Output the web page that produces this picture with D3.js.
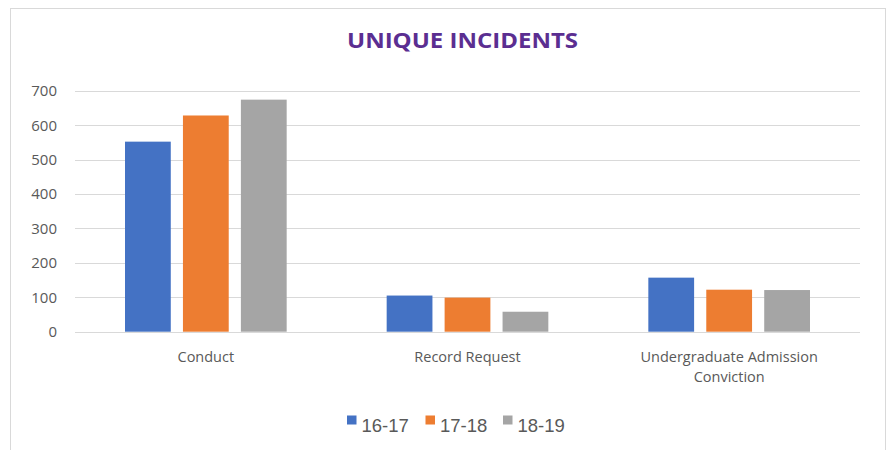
<!DOCTYPE html>
<html><head><meta charset="utf-8">
<script src="https://cdn.jsdelivr.net/npm/d3@7"></script>
<style>body{margin:0;background:#fff}svg{display:block}</style>
</head><body><svg id="c" width="892" height="450"></svg>
<script>
const categories = ["Conduct", "Record Request", "Undergraduate Admission Conviction"];
const series = ["16-17", "17-18", "18-19"];
const values1617 = [552, 105, 157];
const values1718 = [628, 99, 122];
const values1819 = [674, 58, 121];
const yTicks = [0, 100, 200, 300, 400, 500, 600, 700];
const colors = ["#4472C4", "#ED7D31", "#A5A5A5"];
const seriesValues = [values1617, values1718, values1819];

const svg = d3.select("#c");
svg.append("rect").attr("x",10.5).attr("y",8.5).attr("width",875).attr("height",460)
  .attr("fill","#fff").attr("stroke","#d9d9d9");

svg.append("text").attr("x",347).attr("y",48.3)
  .attr("font-family","Open Sans").attr("font-weight","bold").attr("font-size",22)
  .attr("textLength",231).attr("lengthAdjust","spacingAndGlyphs")
  .attr("fill","#5B2E91").text("UNIQUE INCIDENTS");

const x0 = d3.scaleBand().domain(categories).range([75, 860]).paddingInner(0).paddingOuter(0);
const x1 = d3.scaleBand().domain(series).range([50, x0.bandwidth()-50]).paddingInner(0.21);
const y = d3.scaleLinear().domain([0,700]).range([331.7, 90.7]);

const g = svg.append("g");
g.selectAll("line.grid").data(yTicks).join("line")
  .attr("x1",75).attr("x2",860).attr("y1",d=>Math.round(y(d))+0.5).attr("y2",d=>Math.round(y(d))+0.5)
  .attr("stroke","#d9d9d9").attr("stroke-width",1);

g.selectAll("text.yt").data(yTicks).join("text")
  .attr("x",57).attr("y",d=>y(d)+5.5).attr("text-anchor","end")
  .attr("font-family","Open Sans").attr("font-size",15).attr("fill","#595959").text(d=>d);

categories.forEach((c,ci)=>{
  series.forEach((s,si)=>{
    g.append("rect").attr("x",x0(c)+x1(s)).attr("width",x1.bandwidth())
      .attr("y",y(seriesValues[si][ci])).attr("height",y(0)-y(seriesValues[si][ci]))
      .attr("fill",colors[si]);
  });
});

const catLines = [["Conduct"],["Record Request"],["Undergraduate Admission","Conviction"]];
categories.forEach((c,ci)=>{
  const t = g.append("text").attr("text-anchor","middle")
    .attr("font-family","Open Sans").attr("font-size",14.5).attr("fill","#595959");
  catLines[ci].forEach((l,li)=>{
    t.append("tspan").attr("x",x0(c)+x0.bandwidth()/2).attr("y",361.5+li*20).text(l);
  });
});

const legX = [347, 425.5, 503];
series.forEach((s,si)=>{
  const lg = svg.append("g").attr("transform",`translate(${legX[si]},0)`);
  lg.append("rect").attr("x",0).attr("y",415.5).attr("width",9.5).attr("height",9).attr("fill",colors[si]);
  lg.append("text").attr("x",14.5).attr("y",432.3).attr("font-family","Liberation Sans").attr("font-size",18.5)
    .attr("fill","#595959").text(s);
});
</script></body></html>
